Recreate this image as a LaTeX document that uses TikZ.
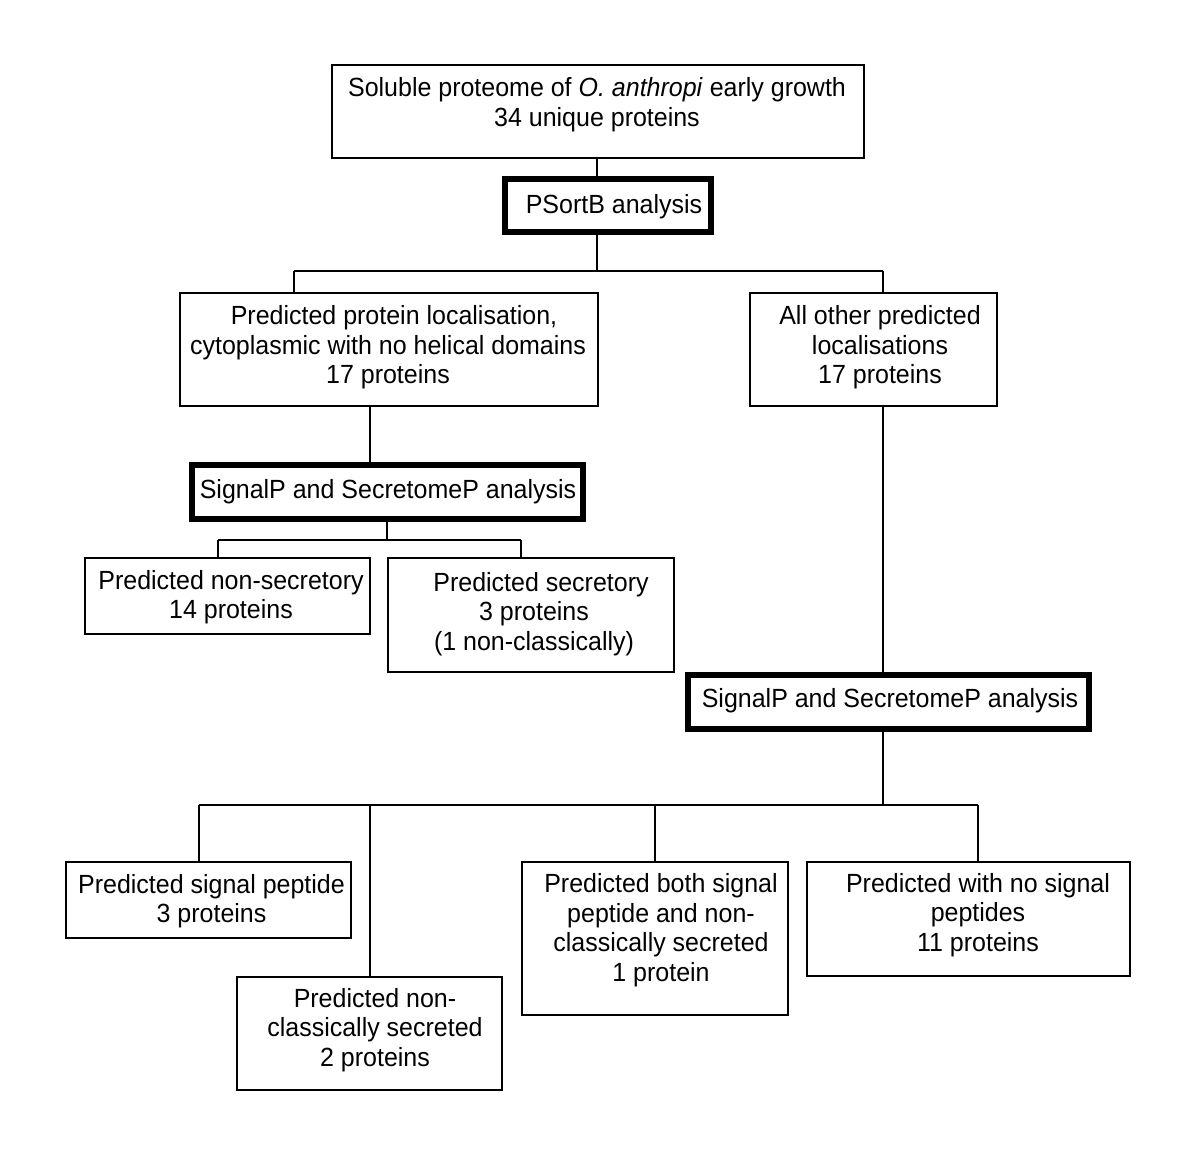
\documentclass[tikz,border=0pt]{standalone}
\usepackage{fontspec}
\setmainfont{Liberation Sans}[FakeStretch=0.95]
\begin{document}
\begin{tikzpicture}[x=1pt,y=-1pt,
  box/.style={draw,line width=2pt,rectangle,inner sep=0pt,outer sep=0pt},
  thickbox/.style={draw,line width=6pt,rectangle,inner sep=0pt,outer sep=0pt},
  txt/.style={inner sep=0pt,align=center,font=\fontsize{26.3}{29.6}\selectfont},
  conn/.style={line width=2pt}]
\useasboundingbox (0,0) rectangle (1200,1161);
% boxes
\node[box,minimum width=532pt,minimum height=93pt] (top) at (598,111.5) {};
\node[thickbox,minimum width=206pt,minimum height=53pt] (psort) at (607.5,206) {};
\node[box,minimum width=418pt,minimum height=113pt] (left) at (389,349.5) {};
\node[box,minimum width=247pt,minimum height=113pt] (right) at (873.5,349.5) {};
\node[thickbox,minimum width=391pt,minimum height=54pt] (sp1) at (387,491.5) {};
\node[box,minimum width=285pt,minimum height=76pt] (nonsec) at (227.5,596) {};
\node[box,minimum width=286pt,minimum height=114pt] (sec) at (531,615) {};
\node[thickbox,minimum width=401pt,minimum height=54pt] (sp2) at (888,701.5) {};
\node[box,minimum width=285pt,minimum height=76pt] (sigpep) at (208.5,900) {};
\node[box,minimum width=265pt,minimum height=113pt] (noncl) at (369.5,1033.5) {};
\node[box,minimum width=266pt,minimum height=153pt] (both) at (655,938.5) {};
\node[box,minimum width=323pt,minimum height=114pt] (nosig) at (968.5,919) {};
% texts
\node[txt] (ttop) at (597,104.5) {Soluble proteome of \textit{O. anthropi} early growth\\34 unique proteins};
\node[txt] (tpsort) at (614,206.5) {PSortB analysis};
\node[txt] (tleft) at (388,347.5) {\hspace{12pt}Predicted protein localisation,\\cytoplasmic with no helical domains\\17 proteins};
\node[txt] (tright) at (880,347.5) {All other predicted\\localisations\\17 proteins};
\node[txt] (tsp1) at (388,491.5) {SignalP and SecretomeP analysis};
\node[txt] (tnonsec) at (231,597) {Predicted non-secretory\\14 proteins};
\node[txt] (tsec) at (534,614) {\hspace{14pt}Predicted secretory\\3 proteins\\(1 non-classically)};
\node[txt] (tsp2) at (890,700.5) {SignalP and SecretomeP analysis};
\node[txt] (tsigpep) at (211.5,901) {Predicted signal peptide\\3 proteins};
\node[txt] (tnoncl) at (375,1030) {Predicted non-\\classically secreted\\2 proteins};
\node[txt] (tboth) at (661,930) {Predicted both signal\\peptide and non-\\classically secreted\\1 protein};
\node[txt] (tnosig) at (978,915) {Predicted with no signal\\peptides\\11 proteins};
% junction coordinates
\coordinate (j0) at (597,271);
\coordinate (j0l) at (294,271);
\coordinate (j0r) at (883,271);
\coordinate (j1) at (370,0);
\coordinate (j2) at (387,540);
\coordinate (j2l) at (218,540);
\coordinate (j2r) at (521,540);
\coordinate (j3) at (883,805);
\coordinate (j3a) at (199,805);
\coordinate (j3b) at (370,805);
\coordinate (j3c) at (655,805);
\coordinate (j3d) at (978,805);
% connectors
\draw[conn] (top.south -| j0) -- (psort.north -| j0);
\draw[conn] (psort.south -| j0) -- (j0);
\draw[conn] (j0l) -- (j0r);
\draw[conn] (j0l) -- (j0l |- left.north);
\draw[conn] (j0r) -- (j0r |- right.north);
\draw[conn] (left.south -| j1) -- (sp1.north -| j1);
\draw[conn] (sp1.south -| j2) -- (j2);
\draw[conn] (j2l) -- (j2r);
\draw[conn] (j2l) -- (j2l |- nonsec.north);
\draw[conn] (j2r) -- (j2r |- sec.north);
\draw[conn] (right.south -| j3) -- (sp2.north -| j3);
\draw[conn] (sp2.south -| j3) -- (j3);
\draw[conn] (j3a) -- (j3d);
\draw[conn] (j3a) -- (j3a |- sigpep.north);
\draw[conn] (j3b) -- (j3b |- noncl.north);
\draw[conn] (j3c) -- (j3c |- both.north);
\draw[conn] (j3d) -- (j3d |- nosig.north);
\end{tikzpicture}
\end{document}
